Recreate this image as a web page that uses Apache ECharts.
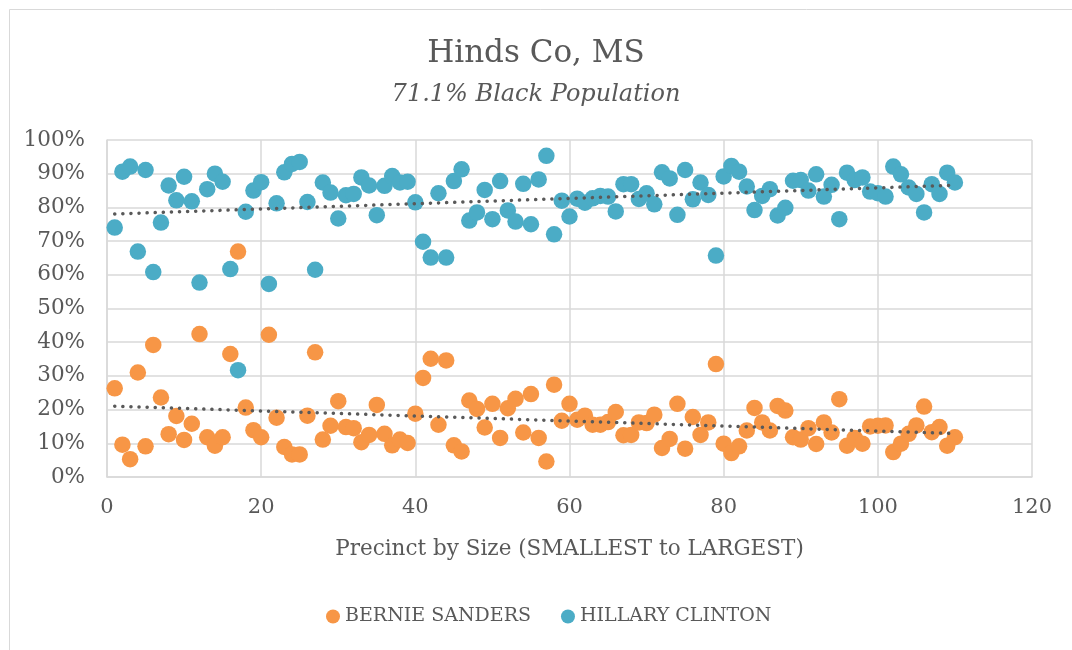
<!DOCTYPE html>
<html><head><meta charset="utf-8">
<script src="https://cdn.jsdelivr.net/npm/echarts@6/dist/echarts.min.js"></script>
<style>html,body{margin:0;padding:0;background:#fff;overflow:hidden}#c{width:1072px;height:650px}</style>
</head><body><div id="c"></div>
<script>
const precinct = [1,2,3,4,5,6,7,8,9,10,11,12,13,14,15,16,17,18,19,20,21,22,23,24,25,26,27,28,29,30,31,32,33,34,35,36,37,38,39,40,41,42,43,44,45,46,47,48,49,50,51,52,53,54,55,56,57,58,59,60,61,62,63,64,65,66,67,68,69,70,71,72,73,74,75,76,77,78,79,80,81,82,83,84,85,86,87,88,89,90,91,92,93,94,95,96,97,98,99,100,101,102,103,104,105,106,107,108,109,110];
const sanders = [26.3,9.6,5.3,31.0,9.1,39.2,23.6,12.7,18.1,11.0,15.8,42.4,11.8,9.3,11.8,36.5,66.9,20.6,13.9,11.8,42.2,17.6,8.9,6.7,6.7,18.2,37.0,11.1,15.2,22.5,14.8,14.5,10.3,12.5,21.4,12.8,9.4,11.1,10.1,18.8,29.4,35.1,15.5,34.6,9.4,7.6,22.7,20.2,14.7,21.7,11.6,20.4,23.2,13.2,24.6,11.6,4.6,27.4,16.7,21.7,17.0,18.2,15.5,15.5,16.3,19.3,12.4,12.5,16.2,16.0,18.5,8.6,11.3,21.7,8.4,17.8,12.5,16.2,33.5,9.9,7.1,9.1,13.8,20.5,16.2,13.8,21.1,19.7,11.8,11.1,14.5,9.8,16.2,13.2,23.1,9.3,11.6,9.9,15.0,15.2,15.3,7.4,9.9,12.8,15.3,20.9,13.3,14.8,9.3,11.8];
const clinton = [74.0,90.6,92.1,66.9,91.1,60.8,75.5,86.5,82.1,89.1,81.8,57.7,85.4,90.0,87.6,61.7,31.7,78.7,85.0,87.5,57.3,81.2,90.4,92.9,93.5,81.6,61.5,87.4,84.4,76.7,83.6,84.0,88.9,86.5,77.7,86.4,89.3,87.4,87.6,81.5,69.8,65.1,84.2,65.1,87.8,91.3,76.1,78.5,85.2,76.5,87.8,79.1,75.8,87.0,75.0,88.3,95.3,72.0,82.0,77.3,82.6,81.4,82.7,83.4,83.2,78.8,86.9,86.9,82.5,84.2,80.9,90.4,88.6,77.8,91.1,82.4,87.4,83.7,65.7,89.2,92.3,90.6,86.2,79.2,83.4,85.4,77.6,79.9,87.9,88.1,85.0,89.8,83.2,86.7,76.5,90.3,88.1,88.9,84.7,84.2,83.2,92.1,89.8,85.9,84.0,78.5,86.9,84.0,90.3,87.4];
const xTicks = [0,20,40,60,80,100,120];
const yTicks = [0,10,20,30,40,50,60,70,80,90,100];

const FONT = 'DejaVu Serif';
const TXT = '#595959';

function pairs(ys){ return precinct.map((x,i)=>[x, ys[i]]); }
function trend(ys){
  const n = precinct.length;
  let sx=0, sy=0, sxx=0, sxy=0;
  for(let i=0;i<n;i++){ const x=precinct[i], y=ys[i]; sx+=x; sy+=y; sxx+=x*x; sxy+=x*y; }
  const b = (n*sxy - sx*sy)/(n*sxx - sx*sx);
  const a = (sy - b*sx)/n;
  const x0 = precinct[0], x1 = precinct[n-1];
  return [[x0, a+b*x0],[x1, a+b*x1]];
}

const chart = echarts.init(document.getElementById('c'), null, {renderer:'canvas'});
const trendStyle = {color:'#595959', width:3.5, type:[0.1,8], cap:'round'};
chart.setOption({
  animation:false,
  backgroundColor:'#fff',
  graphic:[
    {type:'line', shape:{x1:9.5,y1:9.5,x2:1072,y2:9.5}, style:{stroke:'#d9d9d9', lineWidth:1}, silent:true},
    {type:'line', shape:{x1:9.5,y1:9.5,x2:9.5,y2:650}, style:{stroke:'#d9d9d9', lineWidth:1}, silent:true}
  ],
  title:{
    text:'Hinds Co, MS', subtext:'71.1% Black Population', left:'center', top:33, itemGap:14,
    textStyle:{fontFamily:FONT, fontSize:31, fontWeight:'normal', color:TXT},
    subtextStyle:{fontFamily:FONT, fontSize:24, fontStyle:'italic', color:TXT}
  },
  legend:{
    data:['BERNIE SANDERS','HILLARY CLINTON'], left:321, top:602, icon:'circle', itemWidth:14, itemHeight:14, itemGap:30,
    textStyle:{fontFamily:FONT, fontSize:19, color:TXT}
  },
  grid:{left:107, right:40, top:140, bottom:173, containLabel:false},
  xAxis:{
    type:'value', min:0, max:120, interval:20,
    name:'Precinct by Size (SMALLEST to LARGEST)', nameLocation:'middle', nameGap:61,
    nameTextStyle:{fontFamily:FONT, fontSize:21.5, color:TXT},
    axisLine:{show:true, lineStyle:{color:'#d9d9d9', width:1.5}},
    axisTick:{show:false},
    axisLabel:{fontFamily:FONT, fontSize:21, color:TXT, margin:20},
    splitLine:{show:true, lineStyle:{color:'#d9d9d9', width:1.5}}
  },
  yAxis:{
    type:'value', min:0, max:100, interval:10,
    axisLine:{show:true, lineStyle:{color:'#d9d9d9', width:1.5}},
    axisTick:{show:false},
    axisLabel:{fontFamily:FONT, fontSize:21.5, color:TXT, margin:22, formatter:'{value}%'},
    splitLine:{show:true, lineStyle:{color:'#d9d9d9', width:1.5}}
  },
  series:[
    {name:'BERNIE SANDERS', type:'scatter', data:pairs(sanders), symbolSize:16.5, itemStyle:{color:'#F79646', opacity:1}, z:3},
    {name:'HILLARY CLINTON', type:'scatter', data:pairs(clinton), symbolSize:16.5, itemStyle:{color:'#4BACC6', opacity:1}, z:3},
    {name:'trendS', type:'line', data:trend(sanders), symbol:'none', lineStyle:trendStyle, z:5, silent:true},
    {name:'trendC', type:'line', data:trend(clinton), symbol:'none', lineStyle:trendStyle, z:5, silent:true}
  ]
});
</script></body></html>
